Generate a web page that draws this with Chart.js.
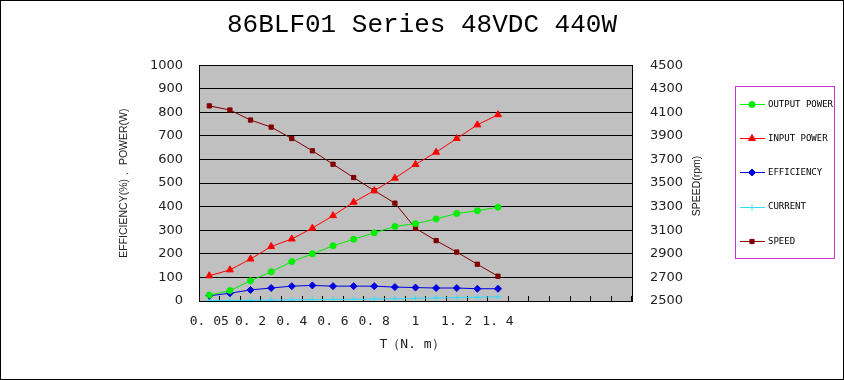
<!DOCTYPE html>
<html>
<head>
<meta charset="utf-8">
<script src="https://cdn.jsdelivr.net/npm/chart.js@4/dist/chart.umd.min.js"></script>
<style>
    body { margin: 0; background: #fff; }
    #wrap { width: 844px; height: 380px; }
</style>
</head>
<body>
<div id="wrap"><canvas id="motorChart" width="844" height="380"></canvas></div>
<script>
const torque = ['0.05', '0.1', '0.2', '0.3', '0.4', '0.5', '0.6', '0.7', '0.8', '0.9', '1', '1.1', '1.2', '1.3', '1.4', '', '', '', '', '', ''];
const outputPower = [25, 44, 86, 124, 167, 200, 234, 262, 289, 316, 328, 348, 371, 383, 398];
const inputPower = [107, 132, 178, 231, 263, 309, 362, 419, 468, 521, 579, 631, 689, 747, 790];
const efficiency = [22, 33, 47, 55, 63, 66, 63, 63, 63, 59, 57, 55, 55, 52, 52];
const current = [2, 2.5, 3, 4, 5, 5.5, 6.5, 7, 8, 9.5, 11, 13, 14.5, 16, 18];
const speed = [4155, 4120, 4035, 3975, 3878, 3774, 3660, 3547, 3436, 3330, 3117, 3012, 2915, 2812, 2710];
const leftTicks = [0, 1000, 100];
const rightTicks = [2500, 4500, 200];

const legendNames = ['OUTPUT POWER', 'INPUT POWER', 'EFFICIENCY', 'CURRENT', 'SPEED'];

function series(label, data, color, style, radius, axis) {
    return {
        label: label,
        data: data,
        yAxisID: axis,
        borderColor: color,
        backgroundColor: color,
        borderWidth: 1,
        pointStyle: style,
        pointRadius: radius,
        pointBorderWidth: 1,
        pointHoverRadius: radius,
        fill: false,
        tension: 0
    };
}

function plain(v) {
    return String(v);
}

const decorate = {
    id: 'decorate',
    beforeDraw(chart) {
        const ctx = chart.ctx;
        const a = chart.chartArea;
        ctx.save();
        ctx.fillStyle = '#fff';
        ctx.fillRect(0, 0, chart.width, chart.height);
        ctx.fillStyle = '#c0c0c0';
        ctx.fillRect(a.left, a.top, a.right - a.left, a.bottom - a.top);
        ctx.restore();
    },
    afterDraw(chart) {
        const ctx = chart.ctx;
        const a = chart.chartArea;
        ctx.save();
        // plot frame and outer frame
        ctx.strokeStyle = '#000';
        ctx.lineWidth = 1;
        ctx.strokeRect(Math.round(a.left) + 0.5, Math.round(a.top) + 0.5, Math.round(a.right - a.left), Math.round(a.bottom - a.top));
        ctx.strokeRect(0.5, 0.5, chart.width - 1, chart.height - 1);

        // axis titles
        ctx.fillStyle = '#222';
        ctx.textAlign = 'center';
        ctx.textBaseline = 'middle';
        ctx.font = '13px "DejaVu Sans Mono"';
        ctx.fillText('T（N. m）', 412, 345);

        ctx.font = '10.5px "Liberation Sans"';
        ctx.translate(124, (a.top + a.bottom) / 2);
        ctx.rotate(-Math.PI / 2);
        ctx.fillText('EFFICIENCY(%) 、POWER(W)', 0, 0);
        ctx.setTransform(1, 0, 0, 1, 0, 0);
        ctx.translate(697, 186);
        ctx.rotate(-Math.PI / 2);
        ctx.fillText('SPEED(rpm)', 0, 0);
        ctx.setTransform(1, 0, 0, 1, 0, 0);

        // legend
        ctx.strokeStyle = '#cc33cc';
        ctx.strokeRect(735.5, 86.5, 99, 172);
        ctx.textAlign = 'left';
        ctx.font = '9px "DejaVu Sans Mono"';
        chart.data.datasets.forEach(function (ds, i) {
            const y = 104 + i * 34.2;
            ctx.strokeStyle = ds.borderColor;
            ctx.lineWidth = 1;
            ctx.beginPath();
            ctx.moveTo(740, Math.round(y) + 0.5);
            ctx.lineTo(765, Math.round(y) + 0.5);
            ctx.stroke();
            ctx.fillStyle = ds.backgroundColor;
            Chart.helpers.drawPoint(ctx, { pointStyle: ds.pointStyle, radius: ds.pointRadius, rotation: 0, borderWidth: 1 }, 752, Math.round(y) + 0.5);
            ctx.fillStyle = '#000';
            ctx.fillText(legendNames[i], 768, y + 0.5);
        });
        ctx.restore();
    }
};

const ctx = document.getElementById('motorChart').getContext('2d');

const chart = new Chart(ctx, {
    type: 'line',
    data: {
        labels: torque,
        datasets: [
            series('OUTPUT POWER', outputPower, '#00ee00', 'circle', 3, 'y'),
            series('INPUT POWER', inputPower, '#ff0000', 'triangle', 4, 'y'),
            series('EFFICIENCY', efficiency, '#0000e0', 'rectRot', 3.5, 'y'),
            series('CURRENT', current, '#33ddff', 'cross', 3, 'y'),
            series('SPEED', speed, '#800000', 'rect', 3, 'y1')
        ]
    },
    options: {
        responsive: false,
        animation: false,
        layout: { padding: 0 },
        plugins: {
            legend: { display: false },
            tooltip: { enabled: false },
            title: {
                display: true,
                text: '86BLF01 Series 48VDC 440W',
                color: '#000',
                font: { family: 'Liberation Mono', size: 26, weight: 'normal' },
                padding: { top: 10, bottom: 24 }
            }
        },
        scales: {
            x: {
                type: 'category',
                offset: true,
                grid: { offset: true, drawOnChartArea: false, color: '#000', tickLength: -5 },
                border: { color: '#000' },
                ticks: {
                    autoSkip: false,
                    maxRotation: 0,
                    padding: 18,
                    color: '#222',
                    font: { family: 'DejaVu Sans Mono', size: 13 },
                    callback: function (val, idx) {
                        return idx % 2 === 0 ? torque[idx].replace('.', '. ') : '';
                    }
                },
                afterFit: function (s) { s.height = 79; }
            },
            y: {
                position: 'left',
                min: leftTicks[0],
                max: leftTicks[1],
                grid: { color: '#000', drawTicks: false },
                border: { color: '#000' },
                ticks: {
                    stepSize: leftTicks[2],
                    padding: 16,
                    color: '#222',
                    font: { family: 'DejaVu Sans', size: 13 },
                    callback: plain
                },
                afterFit: function (s) { s.width = 199; }
            },
            y1: {
                position: 'right',
                min: rightTicks[0],
                max: rightTicks[1],
                grid: { display: false, drawTicks: false },
                border: { color: '#000' },
                ticks: {
                    stepSize: rightTicks[2],
                    padding: 18,
                    color: '#222',
                    font: { family: 'DejaVu Sans', size: 13 },
                    callback: plain
                },
                afterFit: function (s) { s.width = 212; }
            }
        }
    },
    plugins: [decorate]
});
</script>
</body>
</html>
